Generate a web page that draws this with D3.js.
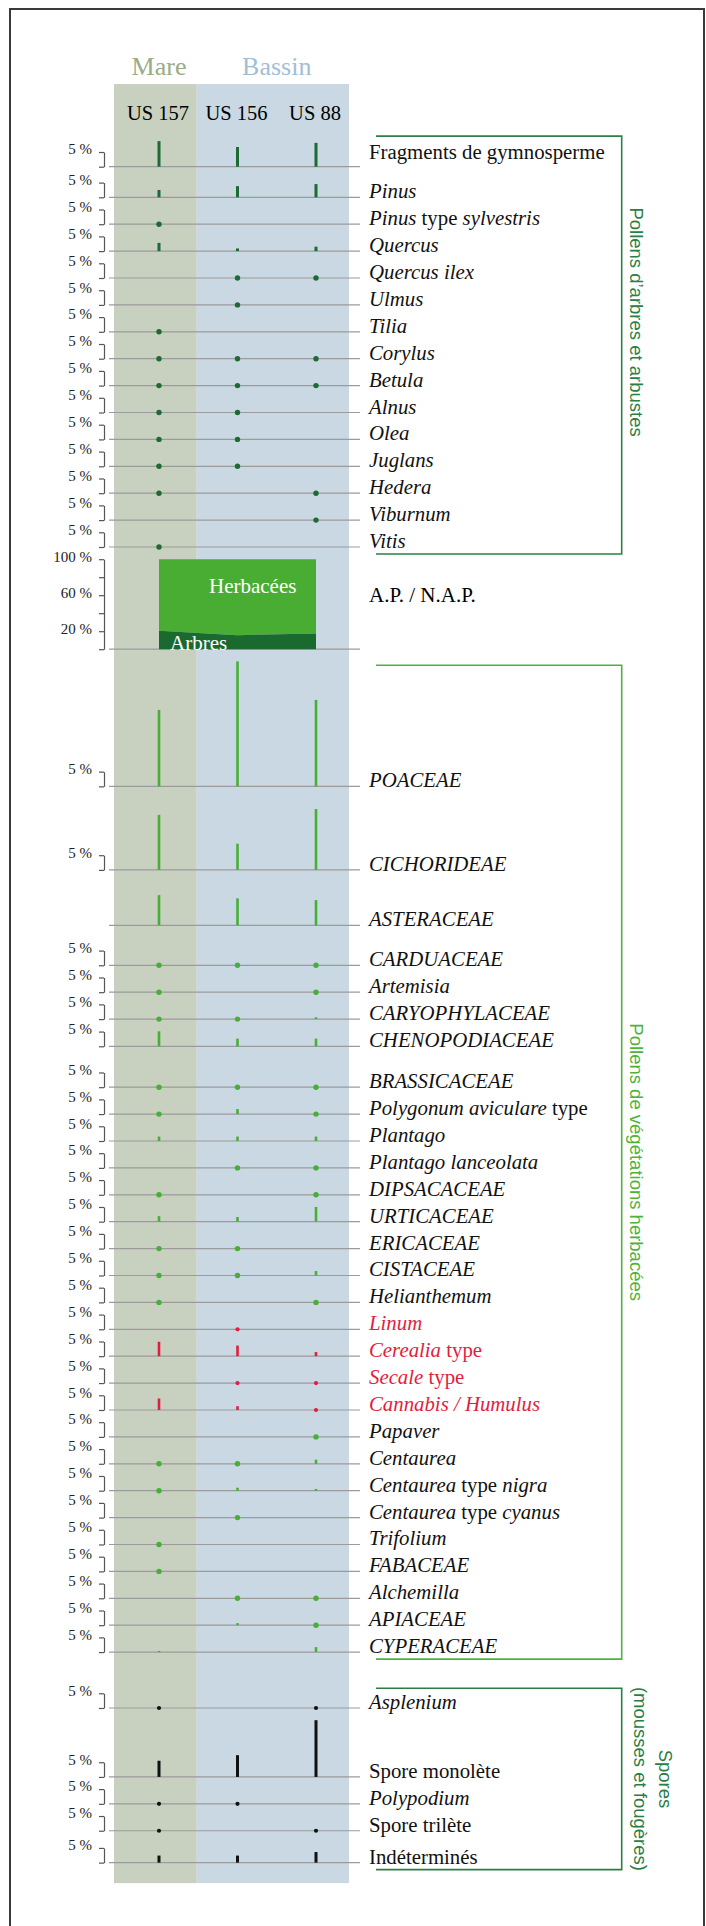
<!DOCTYPE html>
<html>
<head>
<meta charset="utf-8">
<script src="https://cdn.jsdelivr.net/npm/d3@7"></script>
<style>
  body { margin: 0; background: #fff; }
  svg { display: block; font-family: "Liberation Serif", "Times New Roman", serif; }
  text { white-space: pre; }
</style>
</head>
<body>
<svg id="chart" width="706" height="1926"></svg>
<script>
// taxons dans l'ordre du diagramme (*...* = italique)
const treeTaxa = ["Fragments de gymnosperme", "*Pinus*", "*Pinus* type *sylvestris*", "*Quercus*", "*Quercus ilex*",
  "*Ulmus*", "*Tilia*", "*Corylus*", "*Betula*", "*Alnus*", "*Olea*", "*Juglans*", "*Hedera*", "*Viburnum*", "*Vitis*"];
const herbTaxa = ["*POACEAE*", "*CICHORIDEAE*", "*ASTERACEAE*", "*CARDUACEAE*", "*Artemisia*", "*CARYOPHYLACEAE*",
  "*CHENOPODIACEAE*", "*BRASSICACEAE*", "*Polygonum aviculare* type", "*Plantago*", "*Plantago lanceolata*",
  "*DIPSACACEAE*", "*URTICACEAE*", "*ERICACEAE*", "*CISTACEAE*", "*Helianthemum*", "*Linum*", "*Cerealia* type",
  "*Secale* type", "*Cannabis / Humulus*", "*Papaver*", "*Centaurea*", "*Centaurea* type *nigra*",
  "*Centaurea* type *cyanus*", "*Trifolium*", "*FABACEAE*", "*Alchemilla*", "*APIACEAE*", "*CYPERACEAE*"];
const sporeTaxa = ["*Asplenium*", "Spore monolète", "*Polypodium*", "Spore trilète", "Indéterminés"];
const cultivated = ["*Linum*", "*Cerealia* type", "*Secale* type", "*Cannabis / Humulus*"];
const noScaleTaxa = ["*ASTERACEAE*"];

const samples = ["US 157", "US 156", "US 88"];
const zones = ["Mare", "Bassin"];

// pourcentages ; P = présence seule (point), null = absent
const P = "+";
const us157 = [
  8.7, 2.5, P, 2.8, null, null, P, P, P, P, P, P, P, null, P,
  26, 18.7, 10.3, P, P, P, 5.1, P, P, 1.5, null, P, 1.9, P, P, P, null, 4.9, null, 3.9, null, P, P, null, P, P, null, null, 0.4,
  P, 5.5, P, P, 2.4];
const us156 = [
  6.7, 3.8, null, 0.9, P, P, null, P, P, P, P, P, null, null, null,
  42.5, 8.9, 9.2, P, null, P, 2.6, P, 1.7, 1.5, P, null, 1.6, P, P, null, P, 3.6, P, 1.3, null, P, 1.0, P, null, null, P, 0.7, null,
  null, 7.4, P, null, 2.4];
const us88 = [
  8.1, 4.5, null, 1.5, P, null, null, P, P, null, null, null, P, P, null,
  29.4, 20.7, 8.6, P, P, 0.6, 2.6, P, P, 1.5, P, P, 5.0, null, 1.5, P, null, 1.4, P, P, P, 1.4, 0.6, null, null, null, P, P, 1.7,
  P, 19.3, null, P, 3.6];

// A.P. / N.A.P. : part des arbres (%)
const apTrees = [20.5, 15.5, 17.5];
const apTicks = [0, 20, 40, 60, 80, 100];
const apLabelled = [100, 60, 20];

const groupLabels = [["Pollens d’arbres et arbustes"], ["Pollens de végétations herbacées"], ["Spores", "(mousses et fougères)"]];
const groupColors = ["#2a8047", "#4db33b", "#2a7d45"];
const markColors = ["#1b6b32", "#46b036", "#111111"];
const RED = "#e41c3d";

const svg = d3.select("#chart");

const x = d3.scalePoint().domain(samples).range([159, 316]);
const pct = d3.scaleLinear().domain([0, 1]).range([0, 2.94]); // px par %
const BRACKET = pct(5);
const GAP = 12.2;
const AP_H = 90;
const extraGap = { "*Pinus*": 3.7, "*CICHORIDEAE*": 10.5, "*ASTERACEAE*": 13, "*CARDUACEAE*": 13,
  "*BRASSICACEAE*": 14, "*Asplenium*": 29, "Indéterminés": 5 };

// lignes
const groups = [treeTaxa, herbTaxa, sporeTaxa];
const rows = [];
let k = 0;
groups.forEach((taxa, g) => taxa.forEach(name => {
  rows.push({ name, group: g, vals: [us157[k], us156[k], us88[k]] });
  k++;
}));

const rowH = r => Math.max(BRACKET, d3.max(r.vals, v => typeof v === "number" ? pct(v) : 0));

// position verticale cumulée
let cursor = 166.7;
let apBase = null;
rows.forEach((r, i) => {
  if (i > 0) {
    if (r.group === 1 && rows[i - 1].group === 0) {
      apBase = cursor + AP_H + GAP;
      cursor = apBase;
    }
    cursor += rowH(r) + GAP + (extraGap[r.name] || 0);
  }
  r.y = cursor;
});
const lastY = rows[rows.length - 1].y;

// fonds des zones
const split = (x(samples[0]) + x(samples[1])) / 2 - 1.5;
const zoneX = [[x(samples[0]) - 45, split], [split, x(samples[2]) + 33]];
const zoneFill = ["#c8d0bf", "#c9d8e3"];
const zoneText = ["#9aab89", "#a4bdd6"];
svg.selectAll("rect.zone").data(zones).join("rect")
  .attr("class", "zone")
  .attr("x", (d, i) => zoneX[i][0])
  .attr("width", (d, i) => zoneX[i][1] - zoneX[i][0])
  .attr("y", 84)
  .attr("height", lastY + 20.5 - 84)
  .attr("fill", (d, i) => zoneFill[i]);

svg.selectAll("text.zone").data(zones).join("text")
  .attr("class", "zone")
  .attr("x", (d, i) => i === 0 ? x(samples[0]) : (x(samples[1]) + x(samples[2])) / 2)
  .attr("y", 75)
  .attr("text-anchor", "middle")
  .attr("font-size", 26)
  .attr("fill", (d, i) => zoneText[i])
  .text(d => d);

svg.selectAll("text.sample").data(samples).join("text")
  .attr("class", "sample")
  .attr("x", d => x(d) - 1)
  .attr("y", 120)
  .attr("text-anchor", "middle")
  .attr("font-size", 20.5)
  .text(d => d);

// lignes de base
const baseYs = rows.map(r => r.y).concat([apBase]);
svg.append("g").selectAll("line").data(baseYs).join("line")
  .attr("x1", 109).attr("x2", 360)
  .attr("y1", d => d).attr("y2", d => d)
  .attr("stroke", "#9b9b9b").attr("stroke-width", 1.2);

// A.P. / N.A.P.
const apY = d3.scaleLinear().domain([0, 100]).range([apBase, apBase - AP_H]);
const apPts = apTrees.map((v, i) => ({ s: samples[i], v }));
svg.append("path").datum(apPts)
  .attr("fill", "#4aad33")
  .attr("d", d3.area().x(d => x(d.s)).y0(d => apY(d.v)).y1(apY(100)));
svg.append("path").datum(apPts)
  .attr("fill", "#1a6a30")
  .attr("d", d3.area().x(d => x(d.s)).y0(apY(0)).y1(d => apY(d.v)));
svg.append("text").attr("x", x(samples[0]) + 50).attr("y", apY(62))
  .attr("font-size", 21).attr("fill", "#fff").text("Herbacées");
svg.append("text").attr("x", x(samples[0]) + 11).attr("y", apY(0) + 1)
  .attr("font-size", 21).attr("fill", "#fff").text("Arbres");
svg.append("text").attr("x", 369).attr("y", apY(52))
  .attr("font-size", 21)
  .text("A.P. / N.A.P.");

const apAxis = svg.append("g").attr("transform", "translate(104,0)")
  .call(d3.axisLeft(apY).tickValues(apTicks).tickSize(5).tickSizeOuter(0).tickPadding(7)
    .tickFormat(d => apLabelled.includes(d) ? d + " %" : ""));
styleAxis(apAxis);

function styleAxis(g) {
  g.select(".domain").attr("stroke", "#555").attr("stroke-width", 1.2);
  g.selectAll(".tick line").attr("stroke", "#555").attr("stroke-width", 1.2);
  g.selectAll(".tick text").attr("font-family", "Liberation Serif, serif")
    .attr("font-size", 15).attr("fill", "#222").attr("dy", "0.12em");
}

// échelles "5 %"
rows.filter(r => !noScaleTaxa.includes(r.name)).forEach(r => {
  const s = d3.scaleLinear().domain([0, 5]).range([r.y, r.y - BRACKET]);
  const g = svg.append("g").attr("transform", "translate(104,0)")
    .call(d3.axisLeft(s).tickValues([0, 5]).tickSize(5).tickSizeOuter(0).tickPadding(7)
      .tickFormat(d => d ? "5 %" : ""));
  styleAxis(g);
});

// marques : barres et points
const colorOf = r => cultivated.includes(r.name) ? RED : markColors[r.group];
const marks = rows.flatMap(r => r.vals.map((v, i) => ({ r, s: samples[i], v }))).filter(d => d.v !== null);
svg.append("g").selectAll("line").data(marks.filter(d => d.v !== P)).join("line")
  .attr("x1", d => x(d.s)).attr("x2", d => x(d.s))
  .attr("y1", d => d.r.y).attr("y2", d => d.r.y - pct(d.v))
  .attr("stroke", d => colorOf(d.r))
  .attr("stroke-width", d => d.r.group === 1 ? 2.6 : 3);
svg.append("g").selectAll("circle").data(marks.filter(d => d.v === P)).join("circle")
  .attr("cx", d => x(d.s)).attr("cy", d => d.r.y)
  .attr("r", d => (d.r.group === 2 || cultivated.includes(d.r.name)) ? 2.1 : 2.7)
  .attr("fill", d => colorOf(d.r));

// noms des taxons
const labels = svg.append("g").selectAll("text").data(rows).join("text")
  .attr("x", 369)
  .attr("y", (d, i) => i === 0 ? d.y - 8 : d.y + 1)
  .attr("font-size", 20.8)
  .attr("fill", d => cultivated.includes(d.name) ? RED : "#111");
labels.each(function(d) {
  const t = d3.select(this);
  d.name.split("*").forEach((part, i) => {
    if (!part) return;
    t.append("tspan").attr("font-style", i % 2 ? "italic" : "normal").text(part);
  });
});

// accolades des groupes
const labelShift = [-23, 0, 0];
groups.forEach((taxa, g) => {
  const gr = rows.filter(r => r.group === g);
  const first = gr[0], last = gr[gr.length - 1];
  const idx = rows.indexOf(first);
  let prevBase = idx > 0 ? rows[idx - 1].y : -Infinity;
  if (g === 1) prevBase = apBase;
  const top = Math.max(first.y - rowH(first) - 5, prevBase + 16);
  const bottom = last.y + 7;
  svg.append("path")
    .attr("d", `M376,${top}H621.7V${bottom}H376`)
    .attr("fill", "none").attr("stroke", groupColors[g]).attr("stroke-width", 1.6);
  const cy = (top + bottom) / 2 + labelShift[g];
  const lines = groupLabels[g];
  const t = svg.append("text")
    .attr("transform", `translate(${lines.length > 1 ? 658.5 : 630},${cy}) rotate(90)`)
    .attr("text-anchor", "middle")
    .attr("font-family", "Liberation Sans, Arial, sans-serif")
    .attr("font-size", 18.5)
    .attr("fill", groupColors[g]);
  lines.forEach((l, i) => t.append("tspan").attr("x", 0).attr("dy", i ? 25 : 0).text(l));
});

// cadre
svg.append("rect").attr("x", 10).attr("y", 9).attr("width", 694).attr("height", 1940)
  .attr("fill", "none").attr("stroke", "#3a3a3a").attr("stroke-width", 2);
</script>
</body>
</html>
